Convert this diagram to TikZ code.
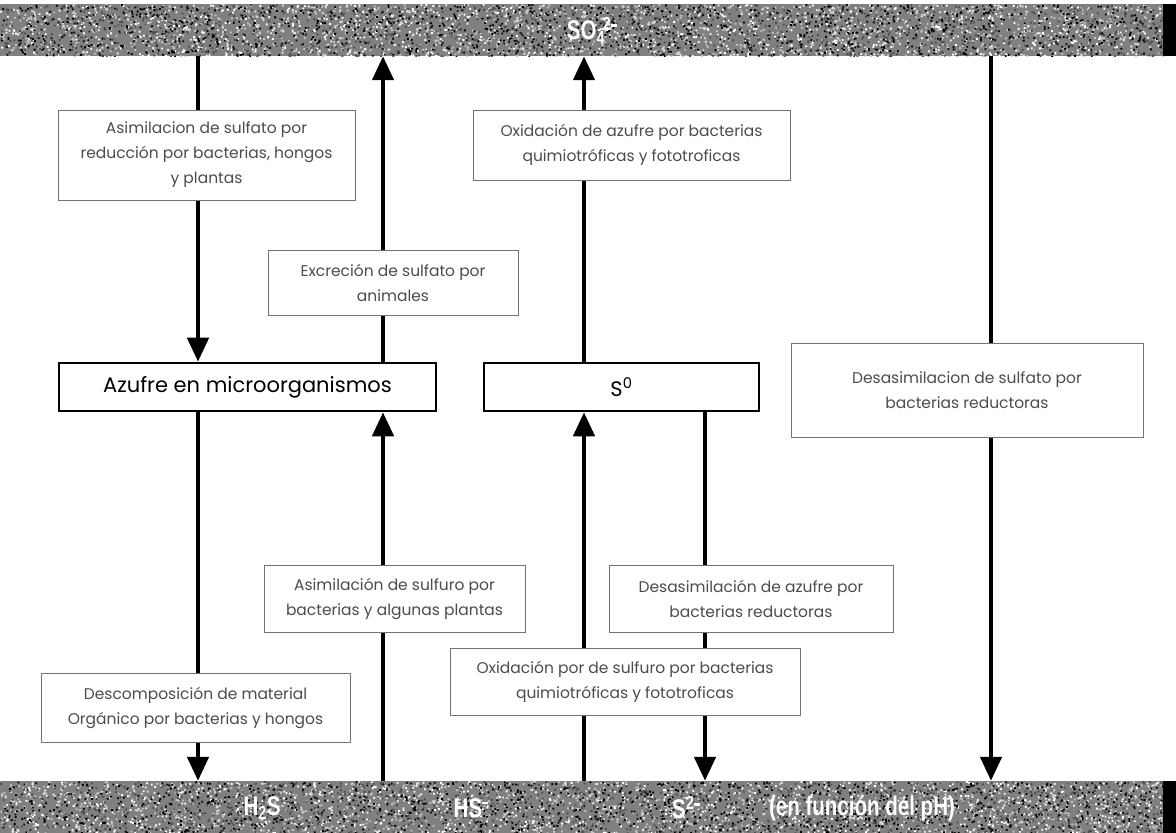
\documentclass[tikz,border=0pt]{standalone}
\usepackage{fontspec}
\setmainfont{Poppins}
\newfontfamily\bandfont{Liberation Sans}
\usetikzlibrary{arrows.meta}
\newcommand\chg[1]{\textsuperscript{#1\kern0.02em\rule[0.42ex]{0.38em}{0.13em}}}
\begin{document}
\begin{tikzpicture}[x=1pt,y=-1pt,
  flow/.style={line width=4.6pt,-{Triangle[length=24pt,width=21pt]}},
  note/.style={draw=black!55,line width=0.8pt,fill=white,inner sep=0pt,align=center,
    text=black!70,font=\fontsize{15.5}{25}\selectfont},
  pool/.style={draw=black,line width=2.6pt,fill=white,inner sep=0pt,
    font=\fontsize{21}{24}\selectfont},
  bandbox/.style={fill=black!50,inner sep=0pt,minimum width=1176pt},
  species/.style={text=white,font=\bandfont\bfseries\fontsize{27}{30}\selectfont,xscale=0.76}
]
\useasboundingbox (0,0) rectangle (1176,833);
\fill[white] (0,0) rectangle (1176,833);

% grainy bands for the sulfate pool (top) and the sulfide pool (bottom)
\node[bandbox,minimum height=52pt] (topband) at (588,30) {};
\node[bandbox,minimum height=52pt] (botband) at (588,807) {};
\pgfmathsetseed{7}
\foreach \yy in {4,781}{
  \begin{scope}
    \clip (0,\yy) rectangle (1176,\yy+52);
    \foreach \g in {0,22,70,100}{
      \fill[black!\g] \foreach \i in {1,...,1300}{
        (rnd*1176,\yy+rnd*52) rectangle ++(1.8,1.8)
      };
    }
    \fill[black] (1163,\yy) rectangle (1176,\yy+52);
  \end{scope}
}

% sulfur pools
\node[pool,minimum width=377pt,minimum height=48pt] (azufre) at (247.5,387) {Azufre en microorganismos};
\node[pool,minimum width=275pt,minimum height=48pt] (s0) at (621.5,387) {S\textsuperscript{0}};

% columns of the transformation arrows
\coordinate (c1) at (198,0);
\coordinate (c2) at (383,0);
\coordinate (c3) at (584,0);
\coordinate (c4) at (705,0);
\coordinate (c5) at (991,0);

\draw[flow] (c1 |- topband.south) -- (c1 |- azufre.north);
\draw[flow] (c2 |- azufre.north) -- (c2 |- topband.south);
\draw[flow] (c3 |- s0.north) -- (c3 |- topband.south);
\draw[flow] (c5 |- topband.south) -- (c5 |- botband.north);
\draw[flow] (c1 |- azufre.south) -- (c1 |- botband.north);
\draw[flow] (c2 |- botband.north) -- (c2 |- azufre.south);
\draw[flow] (c3 |- botband.north) -- (c3 |- s0.south);
\draw[flow] (c4 |- s0.south) -- (c4 |- botband.north);

% process labels
\node[note,minimum width=297pt,minimum height=90pt] (asimsulfato) at (206.5,155)
  {Asimilacion de sulfato por\\reducción por bacterias, hongos\\y plantas};
\node[note,minimum width=250pt,minimum height=65pt] (excrecion) at (393,282.5)
  {Excreción de sulfato por\\animales};
\node[note,minimum width=317pt,minimum height=70pt] (oxazufre) at (631.5,145)
  {Oxidación de azufre por bacterias\\quimiotróficas y fototroficas};
\node[note,minimum width=352pt,minimum height=94pt] (desasulfato) at (967,390)
  {Desasimilacion de sulfato por\\bacterias reductoras};
\node[note,minimum width=261pt,minimum height=67pt] (asimsulfuro) at (394.5,598.5)
  {Asimilación de sulfuro por\\bacterias y algunas plantas};
\node[note,minimum width=284pt,minimum height=67pt] (desazufre) at (751,598.5)
  {Desasimilación de azufre por\\bacterias reductoras};
\node[note,minimum width=309pt,minimum height=69pt] (descomp) at (195.5,707.5)
  {Descomposición de material\\Orgánico por bacterias y hongos};
\node[note,minimum width=350pt,minimum height=67pt] (oxsulfuro) at (625,681.5)
  {Oxidación por de sulfuro por bacterias\\quimiotróficas y fototroficas};

% chemical species on the bands
\node[species] (so4) at (592,31) {SO\textsubscript{4}\kern-0.1em\chg{2}};
\node[species] (h2s) at (262,808) {H\textsubscript{2}S};
\node[species] (hs) at (471,808) {HS\chg{}};
\node[species] (s2) at (686,808) {S\chg{2}};
\node[species] (ph) at (862,808) {(en función del pH)};
\end{tikzpicture}
\end{document}
